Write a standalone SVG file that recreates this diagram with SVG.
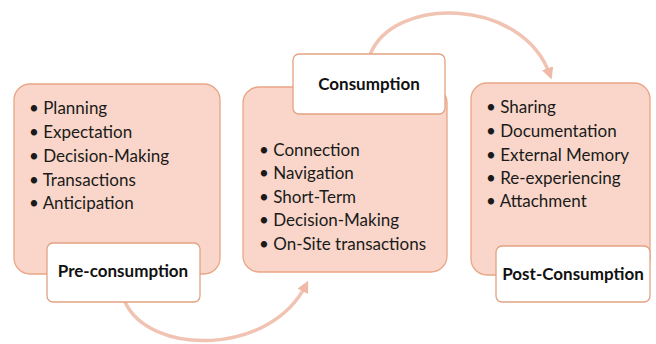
<svg xmlns="http://www.w3.org/2000/svg" width="656" height="344" viewBox="0 0 656 344">
  <defs>
    <marker id="arrowhead" viewBox="0 0 10 10" refX="6" refY="5" markerWidth="3.4" markerHeight="3.4" orient="auto" markerUnits="strokeWidth">
      <path d="M0,0 L10,5 L0,10 z" fill="#efb9a5"/>
    </marker>
    <style>
      .stage { fill: #f9d6c9; stroke: #e9a585; stroke-width: 1.3; }
      .tag { fill: #ffffff; stroke: #e2a283; stroke-width: 1.3; }
      .item { font-family: Lato, "Open Sans", "Liberation Sans", sans-serif; font-size: 17px; fill: #1a1a1a; }
      .title { font-family: Lato, "Open Sans", "Liberation Sans", sans-serif; font-size: 17px; font-weight: bold; fill: #111111; text-anchor: middle; }
      .flow { fill: none; stroke: #f1c3b2; stroke-width: 3.5; stroke-linecap: round; }
    </style>
  </defs>
  <rect width="656" height="344" fill="#ffffff"/>

  <g id="connectors">
    <path class="flow" d="M125,302 C150,356 270,356 306,285" marker-end="url(#arrowhead)"/>
    <path class="flow" d="M370,55 C392,-4 522,-4 550,75" marker-end="url(#arrowhead)"/>
  </g>

  <g id="pre-consumption">
    <rect class="stage" x="14" y="84" width="206" height="190" rx="16"/>
    <text class="item" x="29" y="114">• Planning</text>
    <text class="item" x="29" y="138">• Expectation</text>
    <text class="item" x="29" y="162">• Decision-Making</text>
    <text class="item" x="29" y="186">• Transactions</text>
    <text class="item" x="29" y="209">• Anticipation</text>
    <rect class="tag" x="47" y="243" width="153" height="59" rx="6"/>
    <text class="title" x="123" y="277">Pre-consumption</text>
  </g>

  <g id="consumption">
    <rect class="stage" x="243" y="87" width="204" height="185" rx="16"/>
    <rect class="tag" x="293" y="54" width="152" height="60" rx="6"/>
    <text class="title" x="369" y="90">Consumption</text>
    <text class="item" x="259" y="156">• Connection</text>
    <text class="item" x="259" y="179">• Navigation</text>
    <text class="item" x="259" y="203">• Short-Term</text>
    <text class="item" x="259" y="226">• Decision-Making</text>
    <text class="item" x="259" y="250">• On-Site transactions</text>
  </g>

  <g id="post-consumption">
    <rect class="stage" x="471" y="83" width="179" height="192" rx="16"/>
    <text class="item" x="486" y="113">• Sharing</text>
    <text class="item" x="486" y="137">• Documentation</text>
    <text class="item" x="486" y="161">• External Memory</text>
    <text class="item" x="486" y="184">• Re-experiencing</text>
    <text class="item" x="486" y="207">• Attachment</text>
    <rect class="tag" x="496" y="246" width="154" height="56" rx="6"/>
    <text class="title" x="573" y="280">Post-Consumption</text>
  </g>
</svg>
